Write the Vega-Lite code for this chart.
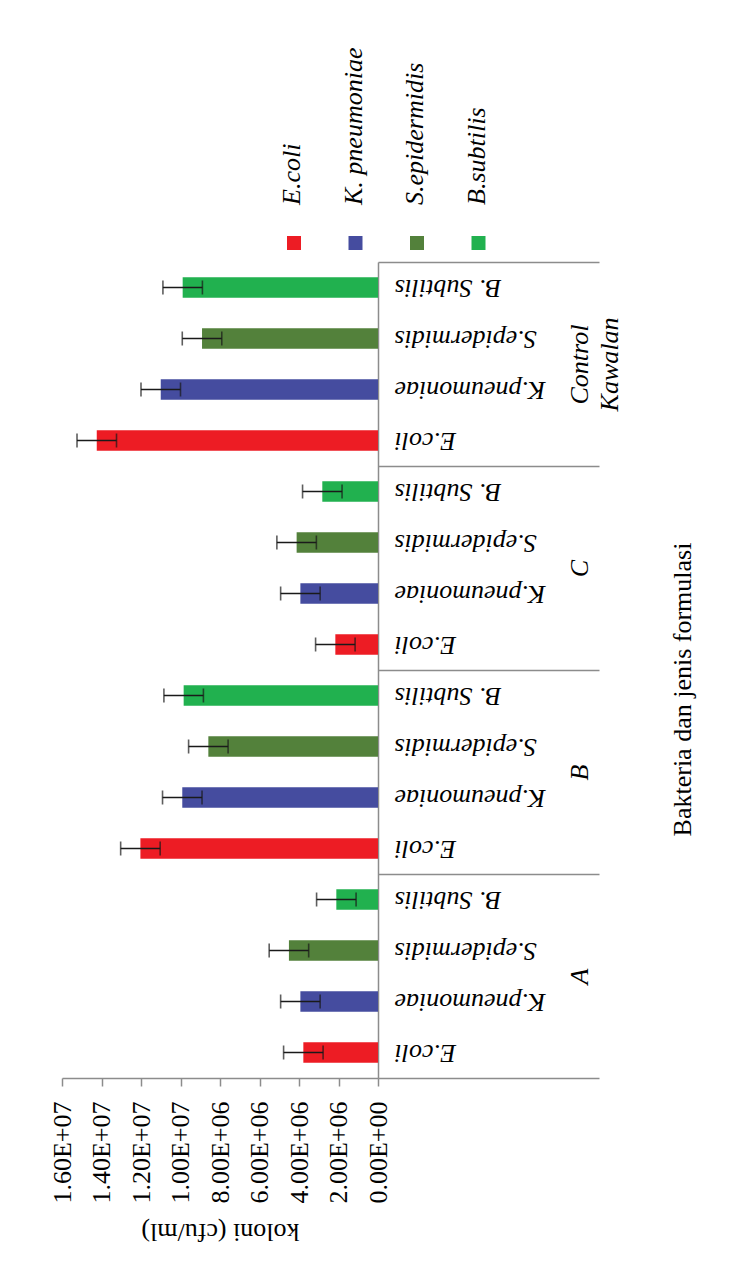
{
  "$schema": "https://vega.github.io/schema/vega-lite/v6.json",
  "width": 316,
  "height": 816,
  "autosize": {"type": "none"},
  "padding": {"left": 62, "top": 262, "right": 359, "bottom": 186},
  "background": "white",
  "config": {"view": {"stroke": null}, "font": "Liberation Serif", "axis": {"labelOverlap": false}, "axisX": {"labelOverlap": false}},
  "data": {
    "values": [
      {"group": "A", "species": "E.coli", "key": "A|E.coli", "value": 3780000, "err": 1000000},
      {"group": "A", "species": "K. pneumoniae", "key": "A|K.pneumoniae", "value": 3930000, "err": 1000000},
      {"group": "A", "species": "S.epidermidis", "key": "A|S.epidermidis", "value": 4510000, "err": 1000000},
      {"group": "A", "species": "B.subtilis", "key": "A|B. Subtilis", "value": 2110000, "err": 1000000},
      {"group": "B", "species": "E.coli", "key": "B|E.coli", "value": 12030000, "err": 1000000},
      {"group": "B", "species": "K. pneumoniae", "key": "B|K.pneumoniae", "value": 9910000, "err": 1000000},
      {"group": "B", "species": "S.epidermidis", "key": "B|S.epidermidis", "value": 8590000, "err": 1000000},
      {"group": "B", "species": "B.subtilis", "key": "B|B. Subtilis", "value": 9840000, "err": 1000000},
      {"group": "C", "species": "E.coli", "key": "C|E.coli", "value": 2160000, "err": 1000000},
      {"group": "C", "species": "K. pneumoniae", "key": "C|K.pneumoniae", "value": 3930000, "err": 1000000},
      {"group": "C", "species": "S.epidermidis", "key": "C|S.epidermidis", "value": 4120000, "err": 1000000},
      {"group": "C", "species": "B.subtilis", "key": "C|B. Subtilis", "value": 2820000, "err": 1000000},
      {"group": "Control Kawalan", "species": "E.coli", "key": "Control Kawalan|E.coli", "value": 14240000, "err": 1000000},
      {"group": "Control Kawalan", "species": "K. pneumoniae", "key": "Control Kawalan|K.pneumoniae", "value": 11000000, "err": 1000000},
      {"group": "Control Kawalan", "species": "S.epidermidis", "key": "Control Kawalan|S.epidermidis", "value": 8910000, "err": 1000000},
      {"group": "Control Kawalan", "species": "B.subtilis", "key": "Control Kawalan|B. Subtilis", "value": 9890000, "err": 1000000}
    ]
  },
  "layer": [
    {
      "layer": [
        {
          "mark": {"type": "bar"},
          "encoding": {
            "y": {
              "field": "key", "type": "nominal",
              "scale": {
                "type": "band",
                "domain": ["Control Kawalan|B. Subtilis", "Control Kawalan|S.epidermidis", "Control Kawalan|K.pneumoniae", "Control Kawalan|E.coli", "C|B. Subtilis", "C|S.epidermidis", "C|K.pneumoniae", "C|E.coli", "B|B. Subtilis", "B|S.epidermidis", "B|K.pneumoniae", "B|E.coli", "A|B. Subtilis", "A|S.epidermidis", "A|K.pneumoniae", "A|E.coli"],
                "paddingInner": 0.6, "paddingOuter": 0.3
              },
              "axis": {
                "orient": "right", "title": null, "grid": false,
                "domain": true, "domainColor": "#8c8c8c", "domainWidth": 1.5,
                "ticks": false,
                "labelAngle": 180, "labelAlign": "right", "labelBaseline": "middle",
                "labelPadding": 16, "labelFont": "Liberation Serif", "labelFontStyle": "italic",
                "labelFontSize": 26, "labelColor": "#000000", "labelLimit": 0, "labelOverlap": false,
                "labelExpr": "split(datum.label, '|')[1]"
              }
            },
            "x": {
              "field": "value", "type": "quantitative", "title": "koloni (cfu/ml)",
              "scale": {"domain": [0, 16000000], "reverse": true, "nice": false, "zero": true},
              "axis": {
                "orient": "bottom", "grid": false,
                "values": [0, 2000000, 4000000, 6000000, 8000000, 10000000, 12000000, 14000000, 16000000],
                "domainColor": "#8c8c8c", "domainWidth": 1.5,
                "tickColor": "#8c8c8c", "tickWidth": 1.5, "tickSize": 8,
                "labelAngle": -90, "labelAlign": "right", "labelBaseline": "middle",
                "labelPadding": 15, "labelFont": "Liberation Serif", "labelFontSize": 26,
                "labelColor": "#000000", "labelOverlap": false, "labelFlush": false, "labelLimit": 0,
                "labelExpr": "replace(format(datum.value, '.2e'), 'e+', 'E+0')",
                "titleFont": "Liberation Serif", "titleFontSize": 26, "titleFontWeight": "normal",
                "titleColor": "#000000", "titleAngle": 180, "titleAlign": "center",
                "titleBaseline": "alphabetic", "titleX": 158, "titleY": 145
              }
            },
            "color": {
              "field": "species", "type": "nominal",
              "scale": {
                "domain": ["E.coli", "K. pneumoniae", "S.epidermidis", "B.subtilis"],
                "range": ["#ED1C24", "#454C9F", "#53813B", "#21B14F"]
              },
              "legend": {
                "orient": "none", "legendX": 219, "legendY": -32,
                "direction": "horizontal", "title": null,
                "symbolType": "square", "symbolSize": 196, "symbolStrokeWidth": 0, "symbolOpacity": 1,
                "labelFont": "Liberation Serif", "labelFontStyle": "italic", "labelFontSize": 26,
                "labelColor": "#000000", "labelOffset": -15, "labelAlign": "left", "labelBaseline": "middle",
                "labelLimit": 0, "columnPadding": 34.5, "padding": 0,
                "encoding": {"labels": {"angle": {"value": -90}, "y": {"value": -25}}}
              }
            }
          }
        },
        {
          "mark": {"type": "errorbar", "color": "#1a1a1a", "thickness": 1.6, "ticks": {"size": 14, "thickness": 1.6, "color": "#1a1a1a"}},
          "encoding": {
            "y": {
              "field": "key", "type": "nominal",
              "scale": {
                "type": "band",
                "domain": ["Control Kawalan|B. Subtilis", "Control Kawalan|S.epidermidis", "Control Kawalan|K.pneumoniae", "Control Kawalan|E.coli", "C|B. Subtilis", "C|S.epidermidis", "C|K.pneumoniae", "C|E.coli", "B|B. Subtilis", "B|S.epidermidis", "B|K.pneumoniae", "B|E.coli", "A|B. Subtilis", "A|S.epidermidis", "A|K.pneumoniae", "A|E.coli"],
                "paddingInner": 0.6, "paddingOuter": 0.3
              }
            },
            "x": {
              "field": "value", "type": "quantitative", "title": "koloni (cfu/ml)",
              "axis": {
                "orient": "bottom", "grid": false,
                "values": [0, 2000000, 4000000, 6000000, 8000000, 10000000, 12000000, 14000000, 16000000],
                "domainColor": "#8c8c8c", "domainWidth": 1.5,
                "tickColor": "#8c8c8c", "tickWidth": 1.5, "tickSize": 8,
                "labelAngle": -90, "labelAlign": "right", "labelBaseline": "middle",
                "labelPadding": 15, "labelFont": "Liberation Serif", "labelFontSize": 26,
                "labelColor": "#000000", "labelOverlap": false, "labelFlush": false, "labelLimit": 0,
                "labelExpr": "replace(format(datum.value, '.2e'), 'e+', 'E+0')",
                "titleFont": "Liberation Serif", "titleFontSize": 26, "titleFontWeight": "normal",
                "titleColor": "#000000", "titleAngle": 180, "titleAlign": "center",
                "titleBaseline": "alphabetic", "titleX": 158, "titleY": 145
              }
            },
            "xError": {"field": "err"}
          }
        }
      ]
    },
    {
      "mark": {"type": "point", "opacity": 0},
      "encoding": {
        "y": {
          "field": "group", "type": "nominal",
          "scale": {"type": "band", "domain": ["Control Kawalan", "C", "B", "A"], "paddingInner": 0, "paddingOuter": 0},
          "axis": {
            "orient": "right", "grid": false, "domain": false,
            "ticks": true, "tickBand": "extent", "tickSize": 221, "tickColor": "#8c8c8c", "tickWidth": 1.5,
            "labelAngle": -90, "labelAlign": "center", "labelBaseline": "top",
            "labelPadding": -33, "labelFont": "Liberation Serif", "labelFontStyle": "italic",
            "labelFontSize": 26, "labelColor": "#000000", "labelLineHeight": 30,
            "labelLimit": 0, "labelOverlap": false,
            "labelExpr": "datum.label == 'Control Kawalan' ? ['Control', 'Kawalan'] : datum.label",
            "title": "Bakteria dan jenis formulasi",
            "titleFont": "Liberation Serif", "titleFontSize": 26, "titleFontWeight": "normal",
            "titleColor": "#000000", "titleAngle": -90, "titleAlign": "center",
            "titleBaseline": "alphabetic", "titleX": 312, "titleY": 427
          }
        }
      }
    }
  ],
  "resolve": {"scale": {"y": "independent"}, "axis": {"y": "independent"}}
}
